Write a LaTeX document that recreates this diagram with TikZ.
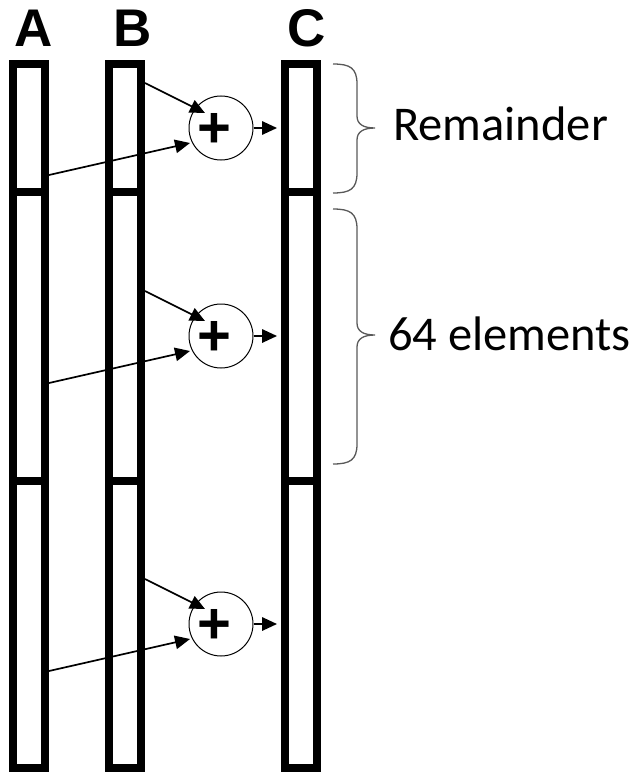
\documentclass[tikz,border=0pt]{standalone}
\usepackage{fontspec}
\setmainfont{Carlito}
\newfontfamily\headfont{Liberation Sans}
\usetikzlibrary{arrows.meta,calc}
\begin{document}
\begin{tikzpicture}[x=1pt,y=-1pt,
  seg/.style={rectangle, draw=black, line width=8pt, minimum width=32pt, inner sep=0pt},
  adder/.style={circle, draw=black, line width=1pt, minimum size=64pt, inner sep=0pt},
  plussign/.style={font=\headfont\bfseries\fontsize{58}{58}\selectfont, inner sep=0pt},
  colhead/.style={font=\headfont\bfseries\fontsize{53}{53}\selectfont, inner sep=0pt, anchor=base},
  feed/.style={line width=1.7pt, -{Triangle[length=15pt,width=13.5pt]}},
  bracepath/.style={draw=black!65, line width=1.3pt},
  sidenote/.style={font=\fontsize{48.5}{52}\selectfont, inner sep=0pt, anchor=base west}
]
\useasboundingbox (0,0) rectangle (630,773);

% the three vectors, each split into a remainder block and two 64-element blocks
\foreach \c/\x in {A/29,B/125,C/301}{
  \node[seg, minimum height=128pt] (\c1) at (\x,128) {};
  \node[seg, minimum height=289pt] (\c2) at (\x,336.5) {};
  \node[seg, minimum height=287pt] (\c3) at (\x,624.5) {};
}

% column headings
\node[colhead] (hA) at (34,47) {A};
\node[colhead] (hB) at (132.5,47) {B};
\node[colhead] (hC) at (306.5,47) {C};

% element-wise adders
\foreach \i/\y in {1/128,2/336,3/624}{
  \node[adder] (P\i) at (221,\y) {};
  \node[plussign] (S\i) at ($(P\i.center)+(-7,2)$) {+};
  \draw[feed] ($(B\i.east |- P\i.center)+(0,-45)$) -- ($(P\i.center)+(-16,-15)$);
  \draw[feed] ($(A\i.east |- P\i.center)+(0,47)$) -- ($(P\i.center)+(-31,15)$);
  \draw[feed, shorten >=4pt] (P\i.east) -- (C\i.west |- P\i.center);
}

% braces with their captions
\draw[bracepath] (333,64) .. controls (350,64) and (357,68) .. (357,84)
  -- (357,116) .. controls (357,124) and (363,128) .. (375,128)
  .. controls (363,128) and (357,132) .. (357,140)
  -- (357,173) .. controls (357,189) and (350,193) .. (333,193);
\draw[bracepath] (333,209) .. controls (350,209) and (357,213) .. (357,229)
  -- (357,323) .. controls (357,331) and (363,335) .. (375,335)
  .. controls (363,335) and (357,339) .. (357,347)
  -- (357,444) .. controls (357,460) and (350,464) .. (333,464);

\node[sidenote] (rem) at (393,140) {Remainder};
\node[sidenote] (els) at (388,350) {64 elements};
\end{tikzpicture}
\end{document}
